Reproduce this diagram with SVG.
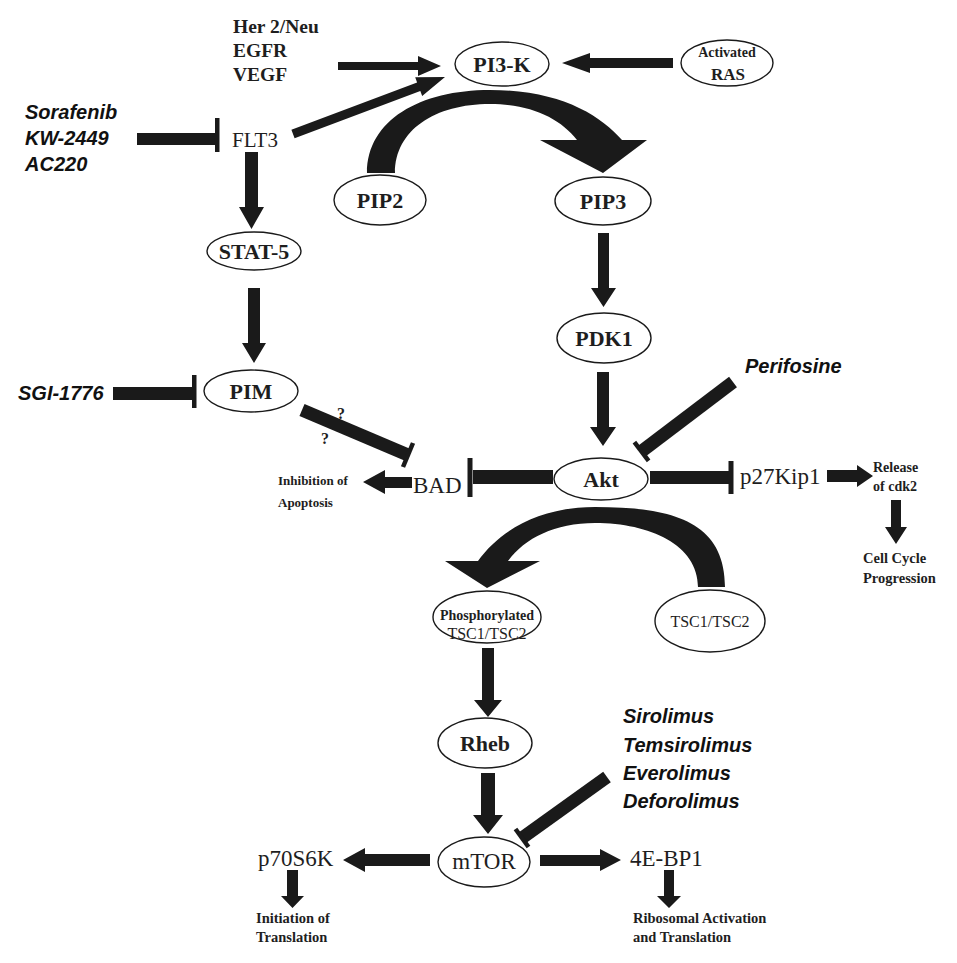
<svg xmlns="http://www.w3.org/2000/svg" width="957" height="963" viewBox="0 0 957 963">
<style>
.bg{fill:#fff}
.node{fill:#fff;stroke:#1a1a1a;stroke-width:1.4}
.lbl{font-family:"Liberation Serif",serif;fill:#1e1e1e}
.b{font-weight:bold}
.mid{text-anchor:middle}
.drug{font-family:"Liberation Sans",Arial,sans-serif;font-weight:bold;font-style:italic;font-size:20px;fill:#111}
.arr{fill:#1a1a1a;stroke:none}
.inh{stroke:#1a1a1a;stroke-width:13;fill:none}
.bar{stroke:#1a1a1a;stroke-width:4.5;fill:none}
</style>
<rect class="bg" x="0" y="0" width="957" height="963"/>

<g id="connectors">
  <!-- Her2/EGFR/VEGF -> PI3-K -->
  <polygon class="arr" points="338,62 418,62 418,56 441,66 418,76 418,70 338,70"/>
  <!-- RAS -> PI3-K -->
  <polygon class="arr" points="673,58 590,58 590,53 562,63 590,73 590,68 673,68"/>
  <!-- FLT3 -> PI3-K -->
  <polygon class="arr" points="291.4,129.8 417.1,82.5 415.2,77.3 445,77 422.2,96.1 420.3,90.9 294.6,138.2"/>
  <!-- Sorafenib -| FLT3 -->
  <rect class="arr" x="137" y="133" width="79" height="12"/>
  <rect class="arr" x="215" y="118" width="4.5" height="34"/>
  <!-- FLT3 -> STAT-5 -->
  <polygon class="arr" points="245,152 258,152 258,207 264,207 251.5,229 239,207 245,207"/>
  <!-- STAT-5 -> PIM -->
  <polygon class="arr" points="248,288 260,288 260,343 266,343 254,363 242,343 248,343"/>
  <!-- SGI-1776 -| PIM -->
  <rect class="arr" x="113" y="387" width="80" height="13"/>
  <rect class="arr" x="192" y="375" width="4.5" height="33"/>
  <!-- PIM -| BAD -->
  <line class="inh" x1="302" y1="410" x2="408" y2="455"/>
  <line class="bar" x1="413" y1="443" x2="403" y2="467"/>
  <!-- PIP2 -> PIP3 curved arrow -->
  <path class="arr" d="M367,173 C367,120 420,90 490,90 C560,90 600,115 622,140 L647,140 L603,173 L540,140 L577,140 C560,118 530,104 490,104 C435,104 395,130 395,173 Z"/>
  <!-- PIP3 -> PDK1 -->
  <polygon class="arr" points="598,233 609,233 609,288 616,288 603.5,307 591,288 598,288"/>
  <!-- PDK1 -> Akt -->
  <polygon class="arr" points="597,372 609,372 609,427 616,427 603,446 590,427 597,427"/>
  <!-- Perifosine -| Akt -->
  <line class="inh" x1="733" y1="382" x2="642" y2="451"/>
  <line class="bar" x1="648.6" y1="460.8" x2="634.4" y2="442.2"/>
  <!-- Akt -| BAD -->
  <rect class="arr" x="473" y="470" width="80" height="14"/>
  <rect class="arr" x="467.5" y="458" width="5" height="39"/>
  <!-- BAD -> Inhibition of Apoptosis -->
  <polygon class="arr" points="412,477 385,477 385,470 363,482 385,494 385,488 412,488"/>
  <!-- Akt -| p27Kip1 -->
  <rect class="arr" x="650" y="471" width="79" height="13"/>
  <rect class="arr" x="728.5" y="461" width="5" height="33"/>
  <!-- p27Kip1 -> Release of cdk2 -->
  <polygon class="arr" points="827,470 857,470 857,465 873,476 857,487 857,482 827,482"/>
  <!-- Release -> Cell Cycle -->
  <polygon class="arr" points="891,500 901,500 901,527 907,527 896,544 885,527 891,527"/>
  <!-- TSC1/TSC2 -> Phosphorylated (Akt) curved arrow -->
  <path class="arr" d="M725,587 C725,520 670,507 595,507 C540,507 500,530 478,561 L445,561 L487,588 L540,561 L508,561 C525,538 555,523 595,523 C650,523 698,545 698,587 Z"/>
  <!-- Phosphorylated -> Rheb -->
  <polygon class="arr" points="482,648 494,648 494,700 502,700 488,717 474,700 482,700"/>
  <!-- Rheb -> mTOR -->
  <polygon class="arr" points="481,773 495,773 495,815 503,815 488,834 473,815 481,815"/>
  <!-- rapalogs -| mTOR -->
  <line class="inh" x1="607" y1="777" x2="522" y2="838"/>
  <line class="bar" x1="528.5" y1="847" x2="515.5" y2="829"/>
  <!-- mTOR -> p70S6K -->
  <polygon class="arr" points="430,854 365,854 365,848 343,860 365,872 365,866 430,866"/>
  <!-- mTOR -> 4E-BP1 -->
  <polygon class="arr" points="540,855 600,855 600,849 621,860 600,871 600,866 540,866"/>
  <!-- p70S6K -> Initiation -->
  <polygon class="arr" points="287,870 298,870 298,896 304,896 292.5,908 281,896 287,896"/>
  <!-- 4E-BP1 -> Ribosomal -->
  <polygon class="arr" points="664,870 674,870 674,896 681,896 669,908 657,896 664,896"/>
</g>

<g id="growth-factors">
  <text class="lbl b" x="233" y="33" font-size="19.5">Her 2/Neu</text>
  <text class="lbl b" x="233" y="57" font-size="19.5">EGFR</text>
  <text class="lbl b" x="233" y="81" font-size="19.5">VEGF</text>
</g>
<g id="pi3k">
  <ellipse class="node" cx="502" cy="64" rx="47" ry="22"/>
  <text class="lbl b mid" x="502" y="72" font-size="22">PI3-K</text>
</g>
<g id="ras">
  <ellipse class="node" cx="727" cy="63" rx="46" ry="23"/>
  <text class="lbl b mid" x="727" y="57" font-size="14">Activated</text>
  <text class="lbl b mid" x="728" y="80" font-size="17">RAS</text>
</g>
<g id="flt3-drugs">
  <text class="drug" x="25" y="119">Sorafenib</text>
  <text class="drug" x="25" y="145">KW-2449</text>
  <text class="drug" x="25" y="171">AC220</text>
</g>
<g id="flt3">
  <text class="lbl" x="232" y="147" font-size="21">FLT3</text>
</g>
<g id="pip2">
  <ellipse class="node" cx="380" cy="200" rx="46" ry="25"/>
  <text class="lbl b mid" x="380" y="208" font-size="22">PIP2</text>
</g>
<g id="pip3">
  <ellipse class="node" cx="603" cy="201" rx="48" ry="24"/>
  <text class="lbl b mid" x="603" y="209" font-size="22">PIP3</text>
</g>
<g id="stat5">
  <ellipse class="node" cx="254" cy="251" rx="47" ry="19"/>
  <text class="lbl b mid" x="254" y="259" font-size="22">STAT-5</text>
</g>
<g id="pdk1">
  <ellipse class="node" cx="604" cy="338" rx="47" ry="25"/>
  <text class="lbl b mid" x="604" y="346" font-size="22">PDK1</text>
</g>
<g id="sgi">
  <text class="drug" x="18" y="400">SGI-1776</text>
</g>
<g id="pim">
  <ellipse class="node" cx="251" cy="391" rx="47" ry="21"/>
  <text class="lbl b mid" x="251" y="399" font-size="22">PIM</text>
</g>
<g id="question-marks">
  <text class="lbl b" x="337" y="419" font-size="16">?</text>
  <text class="lbl b" x="321" y="444" font-size="16">?</text>
</g>
<g id="perifosine">
  <text class="drug" x="745" y="373">Perifosine</text>
</g>
<g id="apoptosis">
  <text class="lbl b" x="278" y="485" font-size="13">Inhibition of</text>
  <text class="lbl b" x="278" y="507" font-size="13">Apoptosis</text>
</g>
<g id="bad">
  <text class="lbl" x="413" y="493" font-size="23">BAD</text>
</g>
<g id="akt">
  <ellipse class="node" cx="601" cy="479" rx="47" ry="21"/>
  <text class="lbl b mid" x="601" y="487" font-size="22">Akt</text>
</g>
<g id="p27">
  <text class="lbl" x="740" y="484" font-size="23">p27Kip1</text>
</g>
<g id="cdk2">
  <text class="lbl b" x="873" y="472" font-size="14">Release</text>
  <text class="lbl b" x="873" y="491" font-size="14">of  cdk2</text>
</g>
<g id="cell-cycle">
  <text class="lbl b" x="863" y="563" font-size="14.5">Cell Cycle</text>
  <text class="lbl b" x="863" y="583" font-size="14.5">Progression</text>
</g>
<g id="ptsc">
  <ellipse class="node" cx="487" cy="617" rx="54" ry="26"/>
  <text class="lbl b mid" x="487" y="620" font-size="14">Phosphorylated</text>
  <text class="lbl mid" x="487" y="639" font-size="16">TSC1/TSC2</text>
</g>
<g id="tsc">
  <ellipse class="node" cx="710" cy="621" rx="55" ry="31"/>
  <text class="lbl mid" x="710" y="627" font-size="16">TSC1/TSC2</text>
</g>
<g id="rheb">
  <ellipse class="node" cx="485" cy="743" rx="47" ry="25"/>
  <text class="lbl b mid" x="485" y="751" font-size="22">Rheb</text>
</g>
<g id="rapalogs">
  <text class="drug" x="623" y="723">Sirolimus</text>
  <text class="drug" x="623" y="752">Temsirolimus</text>
  <text class="drug" x="623" y="780">Everolimus</text>
  <text class="drug" x="623" y="808">Deforolimus</text>
</g>
<g id="mtor">
  <ellipse class="node" cx="484" cy="862" rx="46" ry="25"/>
  <text class="lbl mid" x="484" y="869" font-size="23">mTOR</text>
</g>
<g id="p70s6k">
  <text class="lbl" x="258" y="866" font-size="23">p70S6K</text>
</g>
<g id="initiation">
  <text class="lbl b" x="256" y="923" font-size="14.5">Initiation of</text>
  <text class="lbl b" x="256" y="942" font-size="14.5">Translation</text>
</g>
<g id="4ebp1">
  <text class="lbl" x="630" y="866" font-size="23">4E-BP1</text>
</g>
<g id="ribosomal">
  <text class="lbl b" x="633" y="923" font-size="14.5">Ribosomal Activation</text>
  <text class="lbl b" x="633" y="942" font-size="14.5">and Translation</text>
</g>
</svg>
